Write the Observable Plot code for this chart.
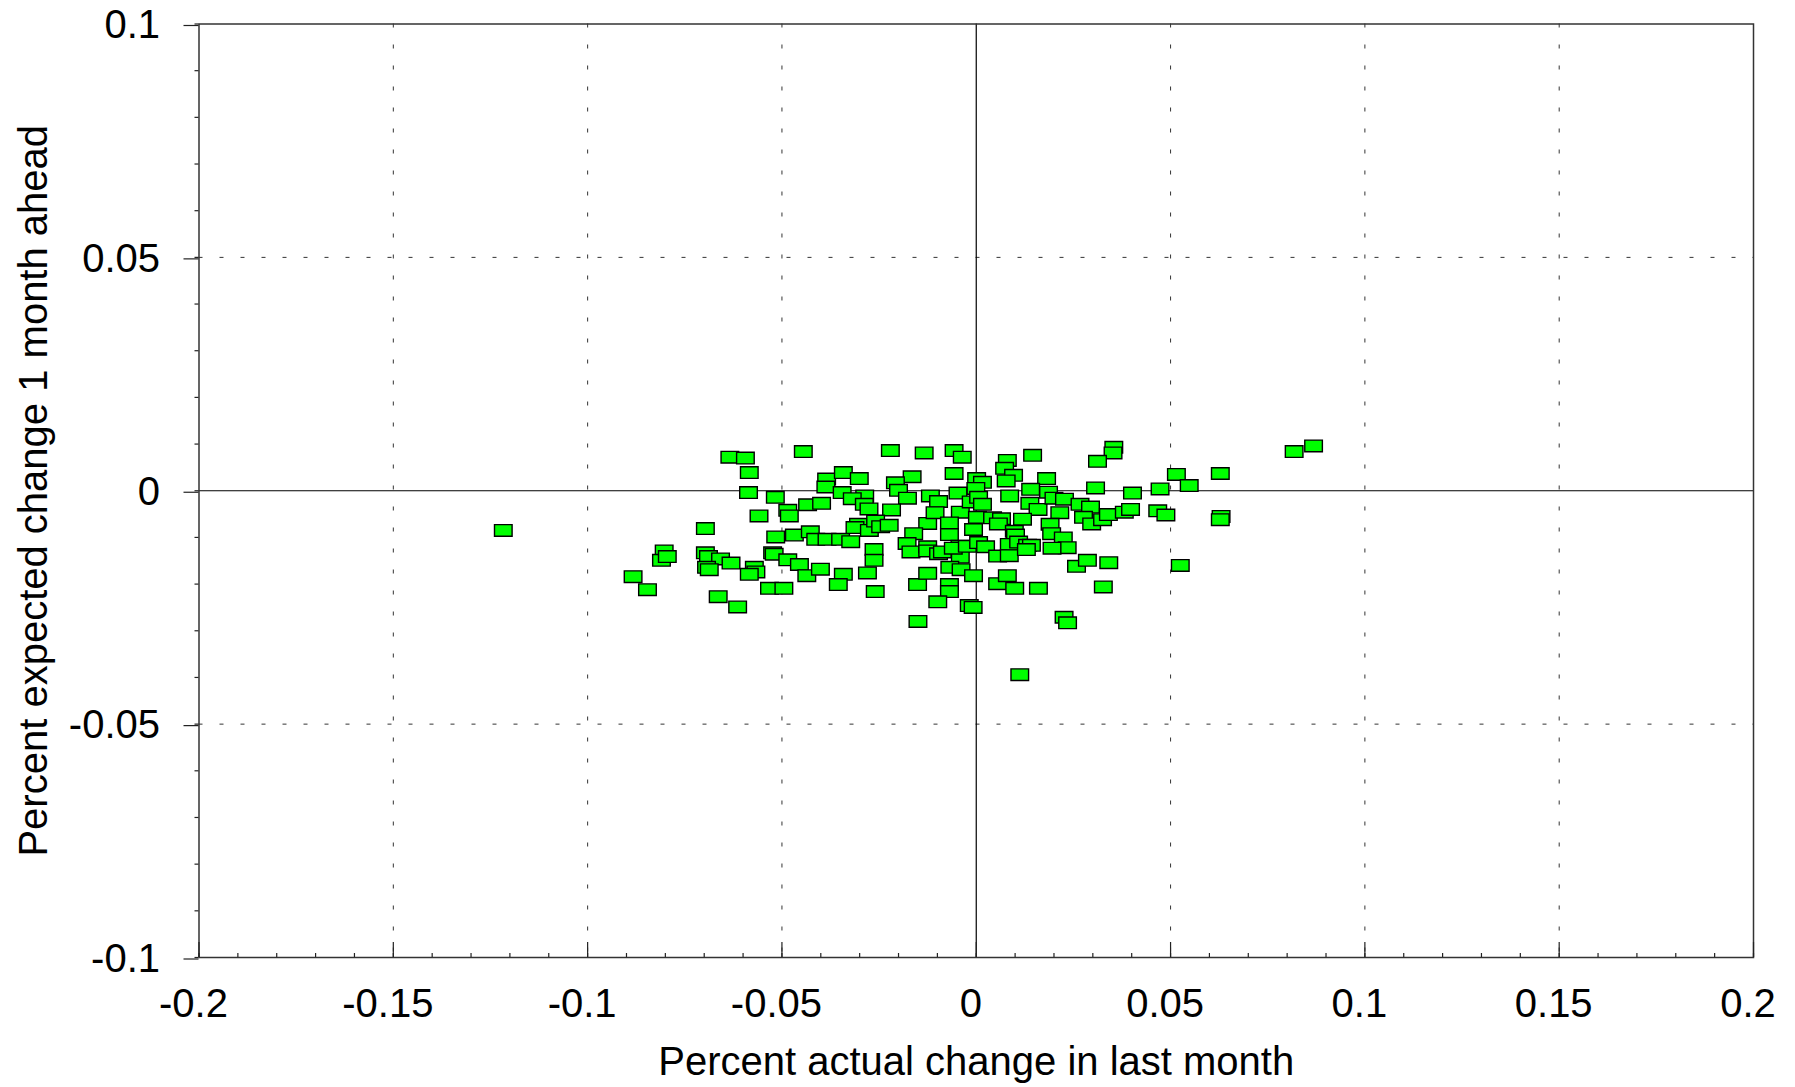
<!DOCTYPE html>
<html>
<head>
<meta charset="utf-8">
<script src="https://cdn.jsdelivr.net/npm/d3@7"></script>
<script src="https://cdn.jsdelivr.net/npm/@observablehq/plot@0.6"></script>
<style>
  html, body { margin: 0; padding: 0; background: #fff; }
  #chart svg { display: block; }
</style>
</head>
<body>
<div id="chart"></div>
<script>
// Percent actual change in last month (x) and percent expected change 1 month ahead (y)
const actualChange = [
  -0.0634,-0.0594,-0.0445,-0.0584,-0.0586,-0.0517,-0.0385,-0.0387,-0.0485,-0.0481,
  -0.0434,-0.0398,-0.0559,-0.0697,-0.0516,-0.0468,-0.0427,-0.0413,-0.0384,-0.0803,
  -0.0810,-0.0795,-0.0697,-0.0689,-0.0658,-0.0631,-0.0694,-0.0687,-0.0571,-0.0567,
  -0.0584,-0.0524,-0.0520,-0.0485,-0.0455,-0.0436,-0.0401,-0.0883,-0.0846,-0.0532,
  -0.0495,-0.0664,-0.0614,-0.0342,-0.0345,-0.0349,-0.0342,-0.0355,
  -0.0221,-0.0134,-0.0057,-0.0036,0.0145,0.0080,0.0073,0.0096,-0.0301,-0.0165,
  -0.0208,-0.0200,-0.0057,0.0001,0.0016,-0.0001,0.0077,0.0181,-0.0287,-0.0319,
  -0.0288,-0.0276,-0.0177,-0.0118,-0.0097,-0.0047,-0.0041,-0.0013,0.0006,0.0016,
  0.0086,0.0140,0.0138,0.0159,0.0186,0.0200,0.0227,0.0267,0.0215,-0.0218,
  -0.0303,-0.0312,-0.0275,-0.0259,-0.0246,-0.0224,-0.0323,-0.0125,-0.0106,-0.0069,
  -0.0069,0.0003,0.0042,0.0065,0.0057,-0.0007,0.0098,0.0101,0.0119,0.0190,
  0.0194,0.0224,0.0234,0.0195,-0.0161,-0.0178,-0.0168,-0.0125,-0.0125,-0.0097,
  -0.0087,-0.0042,-0.0041,-0.0059,-0.0023,0.0006,0.0024,0.0085,0.0109,0.0132,
  0.0142,0.0055,0.0085,0.0129,-0.0263,-0.0263,-0.0280,-0.0260,-0.0151,-0.0125,
  -0.0068,-0.0039,-0.0069,-0.0069,-0.0099,-0.0007,-0.0018,-0.0008,-0.0150,0.0055,
  0.0080,0.0099,0.0160,0.0226,0.0235,0.0258,0.0112,
  0.0354,0.0352,0.0312,0.0307,0.0402,0.0473,0.0515,0.0548,0.0628,0.0818,
  0.0868,0.0294,0.0276,0.0297,0.0325,0.0340,0.0381,0.0397,0.0467,0.0488,
  0.0630,0.0628,0.0286,0.0341,0.0327,0.0525,
  -0.1217
];
const expectedChange = [
  0.0072,0.0070,0.0084,0.0039,-0.0004,-0.0014,0.0025,0.0008,-0.0042,-0.0054,
  -0.0030,-0.0027,-0.0054,-0.0081,-0.0099,-0.0095,-0.0088,-0.0104,-0.0104,-0.0129,
  -0.0149,-0.0141,-0.0133,-0.0141,-0.0146,-0.0155,-0.0164,-0.0169,-0.0164,-0.0174,
  -0.0179,-0.0133,-0.0136,-0.0148,-0.0158,-0.0182,-0.0168,-0.0184,-0.0212,-0.0209,
  -0.0209,-0.0227,-0.0249,0.0039,-0.0004,-0.0104,-0.0179,-0.0201,
  0.0086,0.0081,0.0086,0.0072,0.0076,0.0065,0.0048,0.0033,0.0026,0.0030,
  0.0017,0.0001,0.0037,0.0026,0.0018,0.0005,0.0021,0.0026,-0.0011,-0.0017,
  -0.0029,-0.0039,-0.0016,-0.0011,-0.0023,-0.0005,-0.0046,-0.0024,-0.0014,-0.0029,
  -0.0011,0.0003,-0.0027,-0.0040,-0.0003,-0.0016,-0.0018,-0.0029,-0.0047,-0.0041,
  -0.0072,-0.0079,-0.0085,-0.0065,-0.0077,-0.0074,-0.0109,-0.0070,-0.0047,-0.0069,
  -0.0094,-0.0057,-0.0058,-0.0060,-0.0071,-0.0083,-0.0087,-0.0095,-0.0061,-0.0072,
  -0.0092,-0.0101,-0.0122,-0.0123,-0.0092,-0.0113,-0.0131,-0.0120,-0.0129,-0.0135,
  -0.0131,-0.0119,-0.0142,-0.0123,-0.0119,-0.0111,-0.0120,-0.0115,-0.0110,-0.0117,
  -0.0117,-0.0140,-0.0139,-0.0126,-0.0126,-0.0149,-0.0176,-0.0216,-0.0201,-0.0177,
  -0.0164,-0.0169,-0.0201,-0.0216,-0.0238,-0.0182,-0.0246,-0.0250,-0.0280,-0.0199,
  -0.0182,-0.0209,-0.0209,-0.0271,-0.0283,-0.0162,-0.0394,
  0.0093,0.0081,0.0063,0.0006,-0.0005,0.0004,0.0035,0.0011,0.0037,0.0084,
  0.0096,-0.0035,-0.0057,-0.0071,-0.0062,-0.0051,-0.0046,-0.0040,-0.0043,-0.0052,
  -0.0055,-0.0062,-0.0149,-0.0154,-0.0206,-0.0160,
  -0.0085
];

const xTicks = [-0.2, -0.15, -0.1, -0.05, 0, 0.05, 0.1, 0.15, 0.2];
const xTickLabels = ["-0.2", "-0.15", "-0.1", "-0.05", "0", "0.05", "0.1", "0.15", "0.2"];
const yTicks = [-0.1, -0.05, 0, 0.05, 0.1];
const yTickLabels = ["-0.1", "-0.05", "0", "0.05", "0.1"];
const xGrid = [-0.15, -0.1, -0.05, 0.05, 0.1, 0.15];
const yGrid = [-0.05, 0.05];
const zeroLines = [0];
const xTitle = "Percent actual change in last month";
const yTitle = "Percent expected change 1 month ahead";

const points = actualChange.map((x, i) => ({x, y: expectedChange[i]}));
const xLabelMap = new Map(xTicks.map((t, i) => [t, xTickLabels[i]]));
const yLabelMap = new Map(yTicks.map((t, i) => [t, yTickLabels[i]]));

const W = 1795, H = 1087;
const mTop = 23.5, mRight = 42, mBottom = 130, mLeft = 198.5;
const plotH = H - mTop - mBottom;

const rectSymbol = {
  draw(context) {
    const w = 8.8, h = 5.8;
    context.moveTo(-w, -h);
    context.lineTo(w, -h);
    context.lineTo(w, h);
    context.lineTo(-w, h);
    context.closePath();
  }
};

const font = "'Liberation Sans', Arial, Helvetica, sans-serif";

const chart = Plot.plot({
  width: W,
  height: H,
  marginTop: mTop,
  marginRight: mRight,
  marginBottom: mBottom,
  marginLeft: mLeft,
  style: {fontFamily: font, fontSize: "40px", color: "#000", background: "#fff"},
  x: {domain: [-0.2, 0.2]},
  y: {domain: [-0.1, 0.1]},
  marks: [
    Plot.ruleX(xGrid, {stroke: "#333", strokeWidth: 1, strokeDasharray: "4,17"}),
    Plot.ruleY(yGrid, {stroke: "#333", strokeWidth: 1, strokeDasharray: "4,17"}),
    Plot.ruleX(zeroLines, {stroke: "#000", strokeWidth: 1.2}),
    Plot.ruleY(zeroLines, {stroke: "#000", strokeWidth: 1.2}),
    Plot.dot(points, {x: "x", y: "y", symbol: rectSymbol, fill: "#00ff00", stroke: "#000", strokeWidth: 1.4}),
    Plot.frame({stroke: "#333", strokeWidth: 1.5}),
    // x ticks pointing inward
    Plot.tickX(xTicks, {x: d => d, stroke: "#222", strokeWidth: 1.2, insetTop: plotH - 15}),
    Plot.tickX(d3.ticks(-0.2, 0.2, 40), {x: d => d, stroke: "#222", strokeWidth: 1.2, insetTop: plotH - 4}),
    // x labels
    Plot.axisX(xTicks, {
      tickSize: 0, tickPadding: 31, dx: -5.5, fontSize: 40,
      tickFormat: d => xLabelMap.get(d),
      label: xTitle, labelAnchor: "center", labelOffset: 117, labelArrow: "none"
    }),
    // y minor ticks outward
    Plot.axisY(d3.ticks(-0.1, 0.1, 20), {tickSize: 4, stroke: "#222", strokeWidth: 1.2, tickFormat: () => "", label: null}),
    // y major ticks and labels
    Plot.axisY(yTicks, {
      tickSize: 15, tickPadding: 24, stroke: "#222", strokeWidth: 1.2, fontSize: 40, dy: 1.5,
      tickFormat: d => yLabelMap.get(d),
      label: yTitle, labelAnchor: "center", labelOffset: 180, labelArrow: "none"
    })
  ]
});

document.getElementById("chart").appendChild(chart);
</script>
</body>
</html>
